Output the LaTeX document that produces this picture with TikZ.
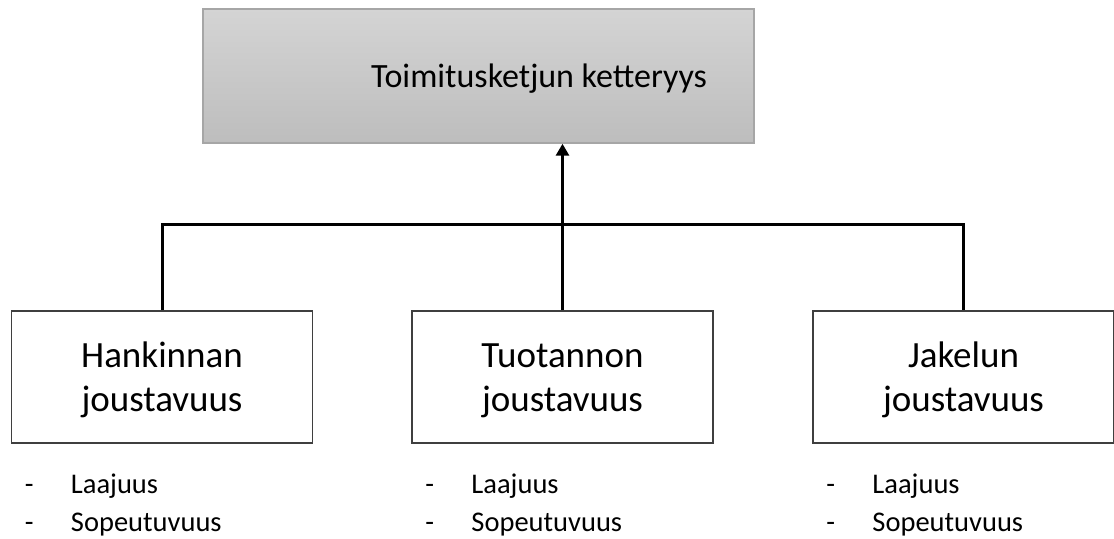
\documentclass[tikz,border=0pt]{standalone}
\usepackage{fontspec}
\setmainfont{Carlito}
\usetikzlibrary{arrows.meta}

\definecolor{boxedge}{HTML}{3F3F3F}
\definecolor{headedge}{HTML}{A6A6A6}
\definecolor{headtop}{HTML}{D4D4D4}
\definecolor{headbottom}{HTML}{BDBDBD}

% two-line caption with equal line heights in every box
\newcommand{\arealabel}[2]{\vphantom{Hk}#1\\\vphantom{jH}#2}

\tikzset{
  headbox/.style={draw=headedge, line width=1.5bp, top color=headtop,
    bottom color=headbottom, minimum width=551bp, minimum height=134bp,
    inner sep=0pt},
  areabox/.style={draw=boxedge, line width=1.5bp, fill=white,
    minimum width=301bp, minimum height=132bp, inner sep=0pt},
  areatext/.style={align=center, inner sep=0pt,
    font=\fontsize{37bp}{44bp}\selectfont},
  link/.style={line width=3bp, line join=miter},
  itemtext/.style={anchor=base west, inner sep=0pt,
    font=\fontsize{28.5bp}{34bp}\selectfont},
}

\begin{document}
\begin{tikzpicture}[x=1bp, y=-1bp]
  \useasboundingbox (0,0) rectangle (1114,539);

  % top level
  \node[headbox] (top) at (478.5,76) {};
  \node[anchor=base, inner sep=0pt, font=\fontsize{34bp}{40bp}\selectfont]
    (toptext) at (539,88) {Toimitusketjun ketteryys};

  % three flexibility areas
  \node[areabox] (hank) at (162,377) {};
  \node[areabox] (tuot) at (562.5,377) {};
  \node[areabox] (jake) at (963.5,377) {};
  \node[areatext] (hank-t) at ([yshift=-3bp] hank.center) {\arealabel{Hankinnan}{joustavuus}};
  \node[areatext] (tuot-t) at ([yshift=-3bp] tuot.center) {\arealabel{Tuotannon}{joustavuus}};
  \node[areatext] (jake-t) at ([yshift=-3bp] jake.center) {\arealabel{Jakelun}{joustavuus}};

  % connectors
  \coordinate (bus) at (0,225);
  \draw[link] (hank.north) -- (hank.north |- bus) -- (jake.north |- bus) -- (jake.north);
  \draw[link, -{Triangle[length=12bp, width=13bp]}] (tuot.north) -- (tuot.north |- top.south);

  % bullet lists under each area
  \foreach \b in {hank, tuot, jake} {
    \node[itemtext] (\b-d1) at ([xshift=14bp] \b.west |- 0,493) {-};
    \node[itemtext] (\b-l1) at ([xshift=60bp] \b.west |- 0,493) {Laajuus};
    \node[itemtext] (\b-d2) at ([xshift=14bp] \b.west |- 0,531) {-};
    \node[itemtext] (\b-l2) at ([xshift=60bp] \b.west |- 0,531) {Sopeutuvuus};
  }
\end{tikzpicture}
\end{document}
